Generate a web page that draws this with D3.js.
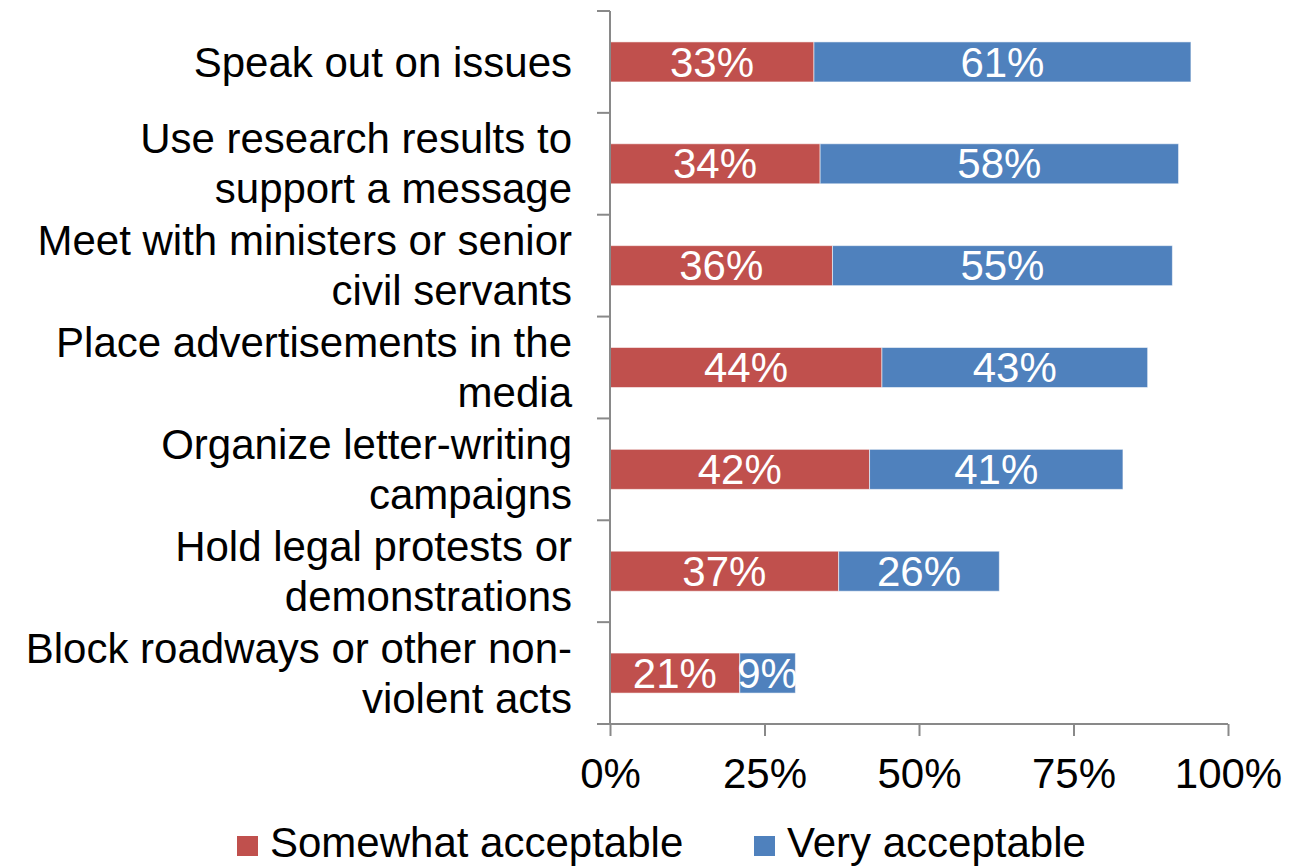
<!DOCTYPE html>
<html>
<head>
<meta charset="utf-8">
<script src="https://cdn.jsdelivr.net/npm/d3@7"></script>
<style>
  html, body { margin: 0; padding: 0; background: #fff; }
  svg { display: block; font-family: "Liberation Sans", Arial, sans-serif; }
</style>
</head>
<body>
<svg id="chart" width="1298" height="868"></svg>
<script>
const categories = [
  "Speak out on issues",
  "Use research results to\nsupport a message",
  "Meet with ministers or senior\ncivil servants",
  "Place advertisements in the\nmedia",
  "Organize letter-writing\ncampaigns",
  "Hold legal protests or\ndemonstrations",
  "Block roadways or other non-\nviolent acts"
];
const somewhat = [33, 34, 36, 44, 42, 37, 21];
const very = [61, 58, 55, 43, 41, 26, 9];
const seriesNames = ["Somewhat acceptable", "Very acceptable"];
const seriesColors = ["#C0504D", "#4F81BD"];
const xTicks = [0, 25, 50, 75, 100];

(function () {
const svg = d3.select("#chart");
const pLeft = 610, pRight = 1228, pTop = 11, pBottom = 724;
const fontSize = 42;

const x = d3.scaleLinear().domain([0, 100]).range([pLeft, pRight]);
const y = d3.scaleBand().domain(categories).range([pTop, pBottom])
  .paddingInner(0.607).paddingOuter(0.3035);

const rows = categories.map((c, i) => ({cat: c, a: somewhat[i], b: very[i]}));

// bars
const g = svg.append("g");
rows.forEach(r => {
  const segs = [
    {x0: 0, x1: r.a, v: r.a, color: seriesColors[0]},
    {x0: r.a, x1: r.a + r.b, v: r.b, color: seriesColors[1]}
  ];
  segs.forEach(s => {
    g.append("rect")
      .attr("x", x(s.x0))
      .attr("y", y(r.cat))
      .attr("width", x(s.x1) - x(s.x0))
      .attr("height", y.bandwidth())
      .attr("fill", s.color)
      .attr("stroke", "rgba(255,255,255,0.55)")
      .attr("stroke-width", 1);
    g.append("text")
      .attr("x", (x(s.x0) + x(s.x1)) / 2)
      .attr("y", y(r.cat) + y.bandwidth() / 2)
      .attr("dy", "0.35em")
      .attr("text-anchor", "middle")
      .attr("fill", "#fff")
      .attr("font-size", fontSize)
      .text(s.v + "%");
  });
});

// y axis line and ticks at band boundaries
const axisColor = "#898989";
svg.append("line")
  .attr("x1", pLeft).attr("x2", pLeft)
  .attr("y1", pTop).attr("y2", pBottom)
  .attr("stroke", axisColor).attr("stroke-width", 2);
d3.range(categories.length + 1).forEach(i => {
  const yy = pTop + i * y.step();
  svg.append("line")
    .attr("x1", pLeft - 13).attr("x2", pLeft)
    .attr("y1", yy).attr("y2", yy)
    .attr("stroke", axisColor).attr("stroke-width", 2);
});

// category labels
const lineH = 50;
categories.forEach(c => {
  const lines = c.split("\n");
  const cy = y(c) + y.bandwidth() / 2;
  const t = svg.append("text")
    .attr("text-anchor", "end")
    .attr("font-size", fontSize)
    .attr("fill", "#000");
  lines.forEach((ln, j) => {
    t.append("tspan")
      .attr("x", 572)
      .attr("y", cy + (j - (lines.length - 1) / 2) * lineH)
      .attr("dy", "0.35em")
      .text(ln);
  });
});

// x axis
const xAxis = d3.axisBottom(x).tickValues(xTicks).tickSize(12).tickPadding(22)
  .tickFormat(d => d + "%");
const xg = svg.append("g").attr("transform", `translate(0,${pBottom})`).call(xAxis);
xg.select(".domain").attr("stroke", axisColor).attr("stroke-width", 2)
  .attr("d", `M${pLeft},0H${pRight}`);
xg.selectAll(".tick line").attr("stroke", axisColor).attr("stroke-width", 2);
xg.selectAll(".tick text").attr("font-size", fontSize).attr("fill", "#000")
  .attr("font-family", "'Liberation Sans', Arial, sans-serif");

// legend
const legendItems = [
  {name: seriesNames[0], color: seriesColors[0], sx: 237},
  {name: seriesNames[1], color: seriesColors[1], sx: 754}
];
legendItems.forEach(it => {
  svg.append("rect")
    .attr("x", it.sx).attr("y", 836)
    .attr("width", 21).attr("height", 20)
    .attr("fill", it.color);
  svg.append("text")
    .attr("x", it.sx + 33).attr("y", 842)
    .attr("dy", "0.35em")
    .attr("font-size", fontSize)
    .attr("fill", "#000")
    .text(it.name);
});
})();
</script>
</body>
</html>
